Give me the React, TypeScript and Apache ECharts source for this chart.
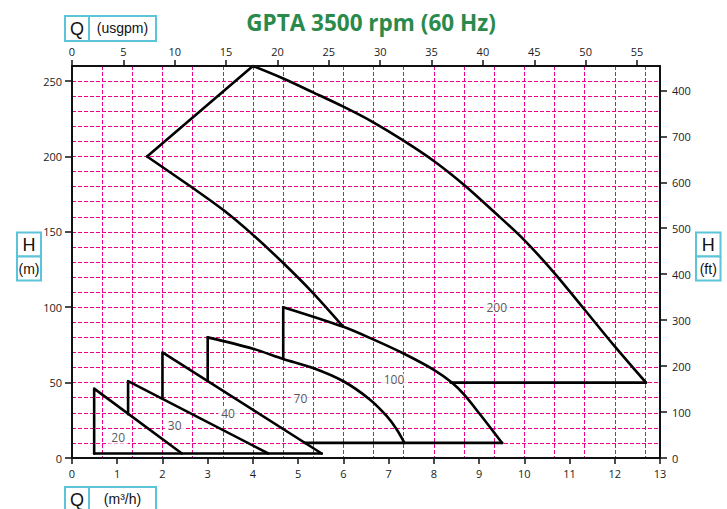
import React, { useEffect, useRef } from "react";
import * as echarts from "echarts";

// ---- axes ----
const flowMin = 0;
const flowMax = 13; // m3/h
const headMax = 260; // m
const usgpmPerM3h = 1 / 0.2271247;
const ftPerM = 1 / 0.3048;

const flowTicks = [0, 1, 2, 3, 4, 5, 6, 7, 8, 9, 10, 11, 12, 13];
const usgpmTicks = [0, 5, 10, 15, 20, 25, 30, 35, 40, 45, 50, 55];
const headTicks = [0, 50, 100, 150, 200, 250];
const ftTicks = [0, 100, 200, 300, 400, 500, 600, 700, 800];
const ftTickLabels = ["0", "100", "200", "300", "400", "500", "600", "700", "400"];

// ---- impeller curves [Q m3/h, H m] ----
const imp20 = [[0.49, 3], [0.49, 46], [2.43, 3]];
const imp30 = [[1.24, 29], [1.24, 51], [4.34, 3]];
const imp40 = [[2.0, 39.5], [2.0, 70], [5.52, 3]];
const baseLow = [[0.49, 3], [5.52, 3]];

const imp70Side = [[3.0, 51], [3.0, 80]];
const imp70Curve = [
  [3.0, 80], [4.0, 72.5], [4.67, 65.7], [5.33, 59.7], [6.0, 50.9],
  [6.59, 38.7], [6.96, 27.7], [7.18, 18.9], [7.35, 10],
];

const imp100Side = [[4.67, 66], [4.67, 100]];
const imp100Curve = [
  [4.67, 100], [6.0, 87], [6.67, 78.5], [7.33, 69.3], [8.0, 58.5],
  [8.39, 50.2], [8.67, 42], [9.02, 29], [9.33, 17], [9.51, 10],
];
const base100 = [[9.51, 10], [5.14, 10]];

const imp200Lower = [
  [5.99, 87.3], [5.33, 109.4], [4.67, 129.3], [4.0, 148],
  [3.34, 164.6], [2.68, 178.9], [1.66, 200],
];
const imp200Side = [[1.66, 200], [4.0, 260]];
const imp200Upper = [
  [4.0, 260], [4.67, 251.7], [5.33, 242.5], [6.0, 233], [6.67, 222.5],
  [7.33, 210.5], [8.0, 197], [8.67, 181.1], [9.33, 163.3], [10.0, 144.5],
  [10.67, 122.5], [11.33, 98.5], [12.0, 74], [12.69, 50],
];
const base200 = [[12.69, 50], [8.37, 50]];

const curveLabels = [
  ["20", 1.02, 13.4],
  ["30", 2.27, 21.5],
  ["40", 3.45, 29.5],
  ["70", 5.05, 39.2],
  ["100", 7.12, 52],
  ["200", 9.39, 99.5],
];

const GRID_PINK = "#ec008c";
const CYAN = "#5bc4d8";
const AXIS_FONT = "'Open Sans', 'Noto Sans', sans-serif";
const BOX_FONT = "'Liberation Sans Narrow', 'Liberation Sans', Arial, sans-serif";

function lineSeries(data: number[][], smooth: number | boolean) {
  return {
    type: "line",
    xAxisIndex: 0,
    yAxisIndex: 0,
    data,
    smooth,
    showSymbol: false,
    symbol: "none",
    silent: true,
    z: 3,
    lineStyle: { color: "#000", width: 2.6, cap: "round", join: "round" },
  };
}

function box(x: number, y: number, w: number, h: number) {
  return {
    type: "rect",
    shape: { x, y, width: w, height: h },
    style: { fill: "#fff", stroke: CYAN, lineWidth: 2 },
    z: 10,
  };
}

function boxText(text: string, x: number, y: number, size: number) {
  return {
    type: "text",
    x,
    y,
    z: 11,
    style: {
      text,
      fill: "#111",
      fontSize: size,
      fontFamily: BOX_FONT,
      align: "center",
      verticalAlign: "middle",
    },
  };
}

export default function App() {
  const ref = useRef<HTMLDivElement>(null);

  useEffect(() => {
    if (!ref.current) return;
    const chart = echarts.init(ref.current, undefined, { renderer: "svg" });

    const axisLabelStyle = { color: "#222", fontSize: 11, fontFamily: AXIS_FONT };

    const option: any = {
      animation: false,
      backgroundColor: "#fff",
      grid: { left: 72, top: 66, width: 588, height: 392, containLabel: false },
      xAxis: [
        {
          type: "value",
          position: "bottom",
          min: flowMin,
          max: flowMax,
          interval: 1,
          z: 5,
          axisLine: { show: true, onZero: false, lineStyle: { color: "#111", width: 2 } },
          axisTick: { show: true, length: 6, lineStyle: { color: "#111", width: 1.5 }, customValues: flowTicks },
          axisLabel: { ...axisLabelStyle, margin: 10, customValues: flowTicks },
          splitLine: { show: false },
        },
        {
          type: "value",
          position: "top",
          min: 0,
          max: flowMax * usgpmPerM3h,
          z: 5,
          axisLine: { show: true, onZero: false, lineStyle: { color: "#111", width: 2 } },
          axisTick: { show: true, length: 6, lineStyle: { color: "#111", width: 1.5 }, customValues: usgpmTicks },
          axisLabel: { ...axisLabelStyle, margin: 9, customValues: usgpmTicks },
          splitLine: { show: false },
        },
        {
          type: "value",
          position: "bottom",
          min: 0,
          max: flowMax,
          interval: 2 / 3,
          z: 0,
          axisLine: { show: false },
          axisTick: { show: false },
          axisLabel: { show: false },
          splitLine: { show: true, lineStyle: { color: GRID_PINK, width: 1, type: [4, 2] } },
        },
      ],
      yAxis: [
        {
          type: "value",
          position: "left",
          min: 0,
          max: headMax,
          z: 5,
          axisLine: { show: true, onZero: false, lineStyle: { color: "#111", width: 2 } },
          axisTick: { show: true, length: 7, lineStyle: { color: "#111", width: 1.5 }, customValues: headTicks },
          axisLabel: { ...axisLabelStyle, margin: 10, customValues: headTicks },
          splitLine: { show: false },
        },
        {
          type: "value",
          position: "right",
          min: 0,
          max: headMax * ftPerM,
          z: 5,
          axisLine: { show: true, onZero: false, lineStyle: { color: "#111", width: 2 } },
          axisTick: { show: true, length: 7, lineStyle: { color: "#111", width: 1.5 }, customValues: ftTicks },
          axisLabel: {
            ...axisLabelStyle,
            margin: 12,
            customValues: ftTicks,
            formatter: (v: number) => {
              const i = ftTicks.indexOf(Math.round(v));
              return i >= 0 ? ftTickLabels[i] : "";
            },
          },
          splitLine: { show: false },
        },
        {
          type: "value",
          position: "left",
          min: 0,
          max: headMax,
          interval: 10,
          z: 0,
          axisLine: { show: false },
          axisTick: { show: false },
          axisLabel: { show: false },
          splitLine: { show: true, lineStyle: { color: GRID_PINK, width: 1, type: [4, 2] } },
        },
      ],
      series: [
        lineSeries(imp20, false),
        lineSeries(imp30, false),
        lineSeries(imp40, false),
        lineSeries(baseLow, false),
        lineSeries(imp70Side, false),
        lineSeries(imp70Curve, 0.3),
        lineSeries(imp100Side, false),
        lineSeries(imp100Curve, 0.3),
        lineSeries(base100, false),
        lineSeries(imp200Lower, 0.3),
        lineSeries(imp200Side, false),
        lineSeries(imp200Upper, 0.3),
        lineSeries(base200, false),
        {
          type: "scatter",
          xAxisIndex: 0,
          yAxisIndex: 0,
          symbolSize: 0,
          silent: true,
          z: 6,
          data: curveLabels.map((d) => ({ value: [d[1], d[2]], name: d[0] })),
          label: {
            show: true,
            position: "inside",
            formatter: (p: any) => p.name,
            color: "#2a2a2a",
            fontSize: 12,
            fontFamily: AXIS_FONT,
            backgroundColor: "#fff",
            padding: [0, 3],
          },
        },
      ],
      graphic: [
        {
          type: "text",
          x: 371,
          y: 22,
          z: 11,
          style: {
            text: "GPTA 3500 rpm (60 Hz)",
            fill: "#2a8a4c",
            fontSize: 22.5,
            fontWeight: "bold",
            fontFamily: "'Open Sans', 'DejaVu Sans', sans-serif",
            align: "center",
            verticalAlign: "middle",
          },
        },
        // top Q box
        box(65, 16, 24, 25),
        box(89, 16, 67, 25),
        boxText("Q", 77, 29, 18),
        boxText("(usgpm)", 122.5, 28, 14),
        // bottom Q box
        box(65, 487, 24, 26),
        box(89, 487, 67, 26),
        boxText("Q", 77, 500, 18),
        boxText("(m³/h)", 122.5, 499, 14),
        // left H box
        box(17, 232.5, 24, 24),
        box(17, 256.5, 24, 24),
        boxText("H", 29, 245, 18),
        boxText("(m)", 29, 269, 14),
        // right H box
        box(696, 232.5, 24.5, 24),
        box(696, 256.5, 24.5, 24),
        boxText("H", 708.25, 245, 18),
        boxText("(ft)", 708.25, 269, 14),
      ],
    };

    chart.setOption(option);
    return () => chart.dispose();
  }, []);

  return (
    <div
      ref={ref}
      style={{ position: "absolute", left: 0, top: 0, width: 727, height: 509 }}
    />
  );
}
